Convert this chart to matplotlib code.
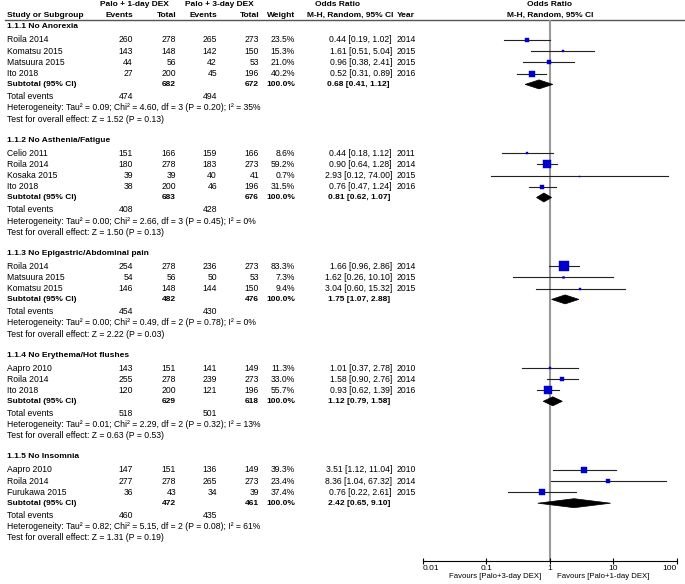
import matplotlib
matplotlib.use("Agg")
import matplotlib.pyplot as plt
from matplotlib.patches import Polygon

plt.rcParams['font.family'] = ['Liberation Sans', 'DejaVu Sans']
FS = 6.2
FS_B = 6

# ---- data, one list per section ----
titles = ["1.1.1 No Anorexia", "1.1.2 No Asthenia/Fatigue",
          "1.1.3 No Epigastric/Abdominal pain", "1.1.4 No Erythema/Hot flushes",
          "1.1.5 No Insomnia"]

studies = [["Roila 2014", "Komatsu 2015", "Matsuura 2015", "Ito 2018"],
           ["Celio 2011", "Roila 2014", "Kosaka 2015", "Ito 2018"],
           ["Roila 2014", "Matsuura 2015", "Komatsu 2015"],
           ["Aapro 2010", "Roila 2014", "Ito 2018"],
           ["Aapro 2010", "Roila 2014", "Furukawa 2015"]]
events1 = [[260, 143, 44, 27], [151, 180, 39, 38], [254, 54, 146], [143, 255, 120], [147, 277, 36]]
total1 = [[278, 148, 56, 200], [166, 278, 39, 200], [278, 56, 148], [151, 278, 200], [151, 278, 43]]
events2 = [[265, 142, 42, 45], [159, 183, 40, 46], [236, 50, 144], [141, 239, 121], [136, 265, 34]]
total2 = [[273, 150, 53, 196], [166, 273, 41, 196], [273, 53, 150], [149, 273, 196], [149, 273, 39]]
weights = [[23.5, 15.3, 21.0, 40.2], [8.6, 59.2, 0.7, 31.5], [83.3, 7.3, 9.4], [11.3, 33.0, 55.7], [39.3, 23.4, 37.4]]
odds = [[0.44, 1.61, 0.96, 0.52], [0.44, 0.90, 2.93, 0.76], [1.66, 1.62, 3.04], [1.01, 1.58, 0.93], [3.51, 8.36, 0.76]]
lower = [[0.19, 0.51, 0.38, 0.31], [0.18, 0.64, 0.12, 0.47], [0.96, 0.26, 0.60], [0.37, 0.90, 0.62], [1.12, 1.04, 0.22]]
upper = [[1.02, 5.04, 2.41, 0.89], [1.12, 1.28, 74.00, 1.24], [2.86, 10.10, 15.32], [2.78, 2.76, 1.39], [11.04, 67.32, 2.61]]
years = [[2014, 2015, 2015, 2016], [2011, 2014, 2015, 2016], [2014, 2015, 2015], [2010, 2014, 2016], [2010, 2014, 2015]]

sub_tot1 = [682, 683, 482, 629, 472]
sub_tot2 = [672, 676, 476, 618, 461]
sub_or = [0.68, 0.81, 1.75, 1.12, 2.42]
sub_lo = [0.41, 0.62, 1.07, 0.79, 0.65]
sub_hi = [1.12, 1.07, 2.88, 1.58, 9.10]
tot_ev1 = [474, 408, 454, 518, 460]
tot_ev2 = [494, 428, 430, 501, 435]
heterogeneity = ["Tau² = 0.09; Chi² = 4.60, df = 3 (P = 0.20); I² = 35%",
                 "Tau² = 0.00; Chi² = 2.66, df = 3 (P = 0.45); I² = 0%",
                 "Tau² = 0.00; Chi² = 0.49, df = 2 (P = 0.78); I² = 0%",
                 "Tau² = 0.01; Chi² = 2.29, df = 2 (P = 0.32); I² = 13%",
                 "Tau² = 0.82; Chi² = 5.15, df = 2 (P = 0.08); I² = 61%"]
overall = ["Z = 1.52 (P = 0.13)", "Z = 1.50 (P = 0.13)", "Z = 2.22 (P = 0.03)",
           "Z = 0.63 (P = 0.53)", "Z = 1.31 (P = 0.19)"]

# ---- layout (pixel coords, y downwards) ----
W, H = 685, 584
X_NAME, X_EV1, X_TOT1, X_EV2, X_TOT2, X_W, X_OR, X_YEAR = 7, 133, 176, 217, 259, 295, 392, 397
AX_L, AX_R, AX_TOP, AX_BOT = 422.7, 676.7, 20, 561

fig = plt.figure(figsize=(W / 100, H / 100), dpi=100)
tx = fig.add_axes([0, 0, 1, 1])
tx.set_xlim(0, W)
tx.set_ylim(H, 0)
tx.axis('off')

ax = fig.add_axes([AX_L / W, 1 - AX_BOT / H, (AX_R - AX_L) / W, (AX_BOT - AX_TOP) / H])
ax.set_xscale('log')
ax.set_xlim(0.01, 100)
ax.set_ylim(AX_BOT, AX_TOP)
ax.patch.set_alpha(0)
for s in ['top', 'left', 'right']:
    ax.spines[s].set_visible(False)
ax.spines['bottom'].set_linewidth(0.8)
ax.set_yticks([])
ax.set_xticks([0.01, 0.1, 1, 10, 100])
ax.set_xticklabels(["0.01", "0.1", "1", "10", "100"], fontsize=6)
ax.minorticks_off()
ax.tick_params(axis='x', direction='inout', length=4, width=0.8, pad=1)
labs = ax.get_xticklabels()
labs[0].set_ha('left')
labs[-1].set_ha('right')
ax.axvline(1, color='#999999', lw=1.5, zorder=1)


def t(x, y, s, ha='left', bold=False, size=None):
    if size is None:
        size = FS_B if bold else FS
    tx.text(x, y, s, ha=ha, va='center', fontsize=size,
            fontweight='bold' if bold else 'normal')


# header
t(134, 5, "Palo + 1-day DEX", 'center', True)
t(219, 5, "Palo + 3-day DEX", 'center', True)
t(338, 5, "Odds Ratio", 'center', True)
t(550, 5, "Odds Ratio", 'center', True)
hy = 15.5
t(X_NAME, hy, "Study or Subgroup", bold=True)
t(X_EV1, hy, "Events", 'right', True)
t(X_TOT1, hy, "Total", 'right', True)
t(X_EV2, hy, "Events", 'right', True)
t(X_TOT2, hy, "Total", 'right', True)
t(X_W, hy, "Weight", 'right', True)
t(X_OR + 1, hy, "M-H, Random, 95% CI", 'right', True)
t(X_YEAR, hy, "Year", bold=True)
t(550, hy, "M-H, Random, 95% CI", 'center', True)
tx.plot([5, W], [20, 20], color='#555555', lw=1)

y = 27
for k in range(len(titles)):
    t(X_NAME, y, titles[k], bold=True)
    y += 13
    for i in range(len(studies[k])):
        t(X_NAME, y, studies[k][i])
        t(X_EV1, y, str(events1[k][i]), 'right')
        t(X_TOT1, y, str(total1[k][i]), 'right')
        t(X_EV2, y, str(events2[k][i]), 'right')
        t(X_TOT2, y, str(total2[k][i]), 'right')
        t(X_W, y, "%.1f%%" % weights[k][i], 'right')
        t(X_OR, y, "%.2f [%.2f, %.2f]" % (odds[k][i], lower[k][i], upper[k][i]), 'right')
        t(X_YEAR, y, str(years[k][i]))
        ax.plot([lower[k][i], upper[k][i]], [y, y], color='#222222', lw=0.8, zorder=2)
        side = (1 + 0.12 * weights[k][i]) * 0.72
        ax.plot(odds[k][i], y, marker='s', ms=side, color='#0000CC', mec='#0000CC',
                mew=0.3, zorder=3)
        y += 11.2
    y -= 0.4
    t(X_NAME, y, "Subtotal (95% CI)", bold=True)
    t(X_TOT1, y, str(sub_tot1[k]), 'right', True)
    t(X_TOT2, y, str(sub_tot2[k]), 'right', True)
    t(X_W, y, "100.0%", 'right', True)
    t(X_OR - 2, y, "%.2f [%.2f, %.2f]" % (sub_or[k], sub_lo[k], sub_hi[k]), 'right', True)
    dia = Polygon([[sub_lo[k], y], [sub_or[k], y - 4.5], [sub_hi[k], y], [sub_or[k], y + 4.5]],
                  closed=True, facecolor='black', edgecolor='black', lw=0.5, zorder=3)
    ax.add_patch(dia)
    y += 12.3
    t(X_NAME, y, "Total events")
    t(X_EV1, y, str(tot_ev1[k]), 'right')
    t(X_EV2, y, str(tot_ev2[k]), 'right')
    y += 11.2
    t(X_NAME, y, "Heterogeneity: " + heterogeneity[k])
    y += 11.2
    t(X_NAME, y, "Test for overall effect: " + overall[k])
    y += 21

t(541, 577, "Favours [Palo+3-day DEX]", 'right', size=5.6)
t(557, 577, "Favours [Palo+1-day DEX]", 'left', size=5.6)

fig.savefig("out.png", dpi=100)
